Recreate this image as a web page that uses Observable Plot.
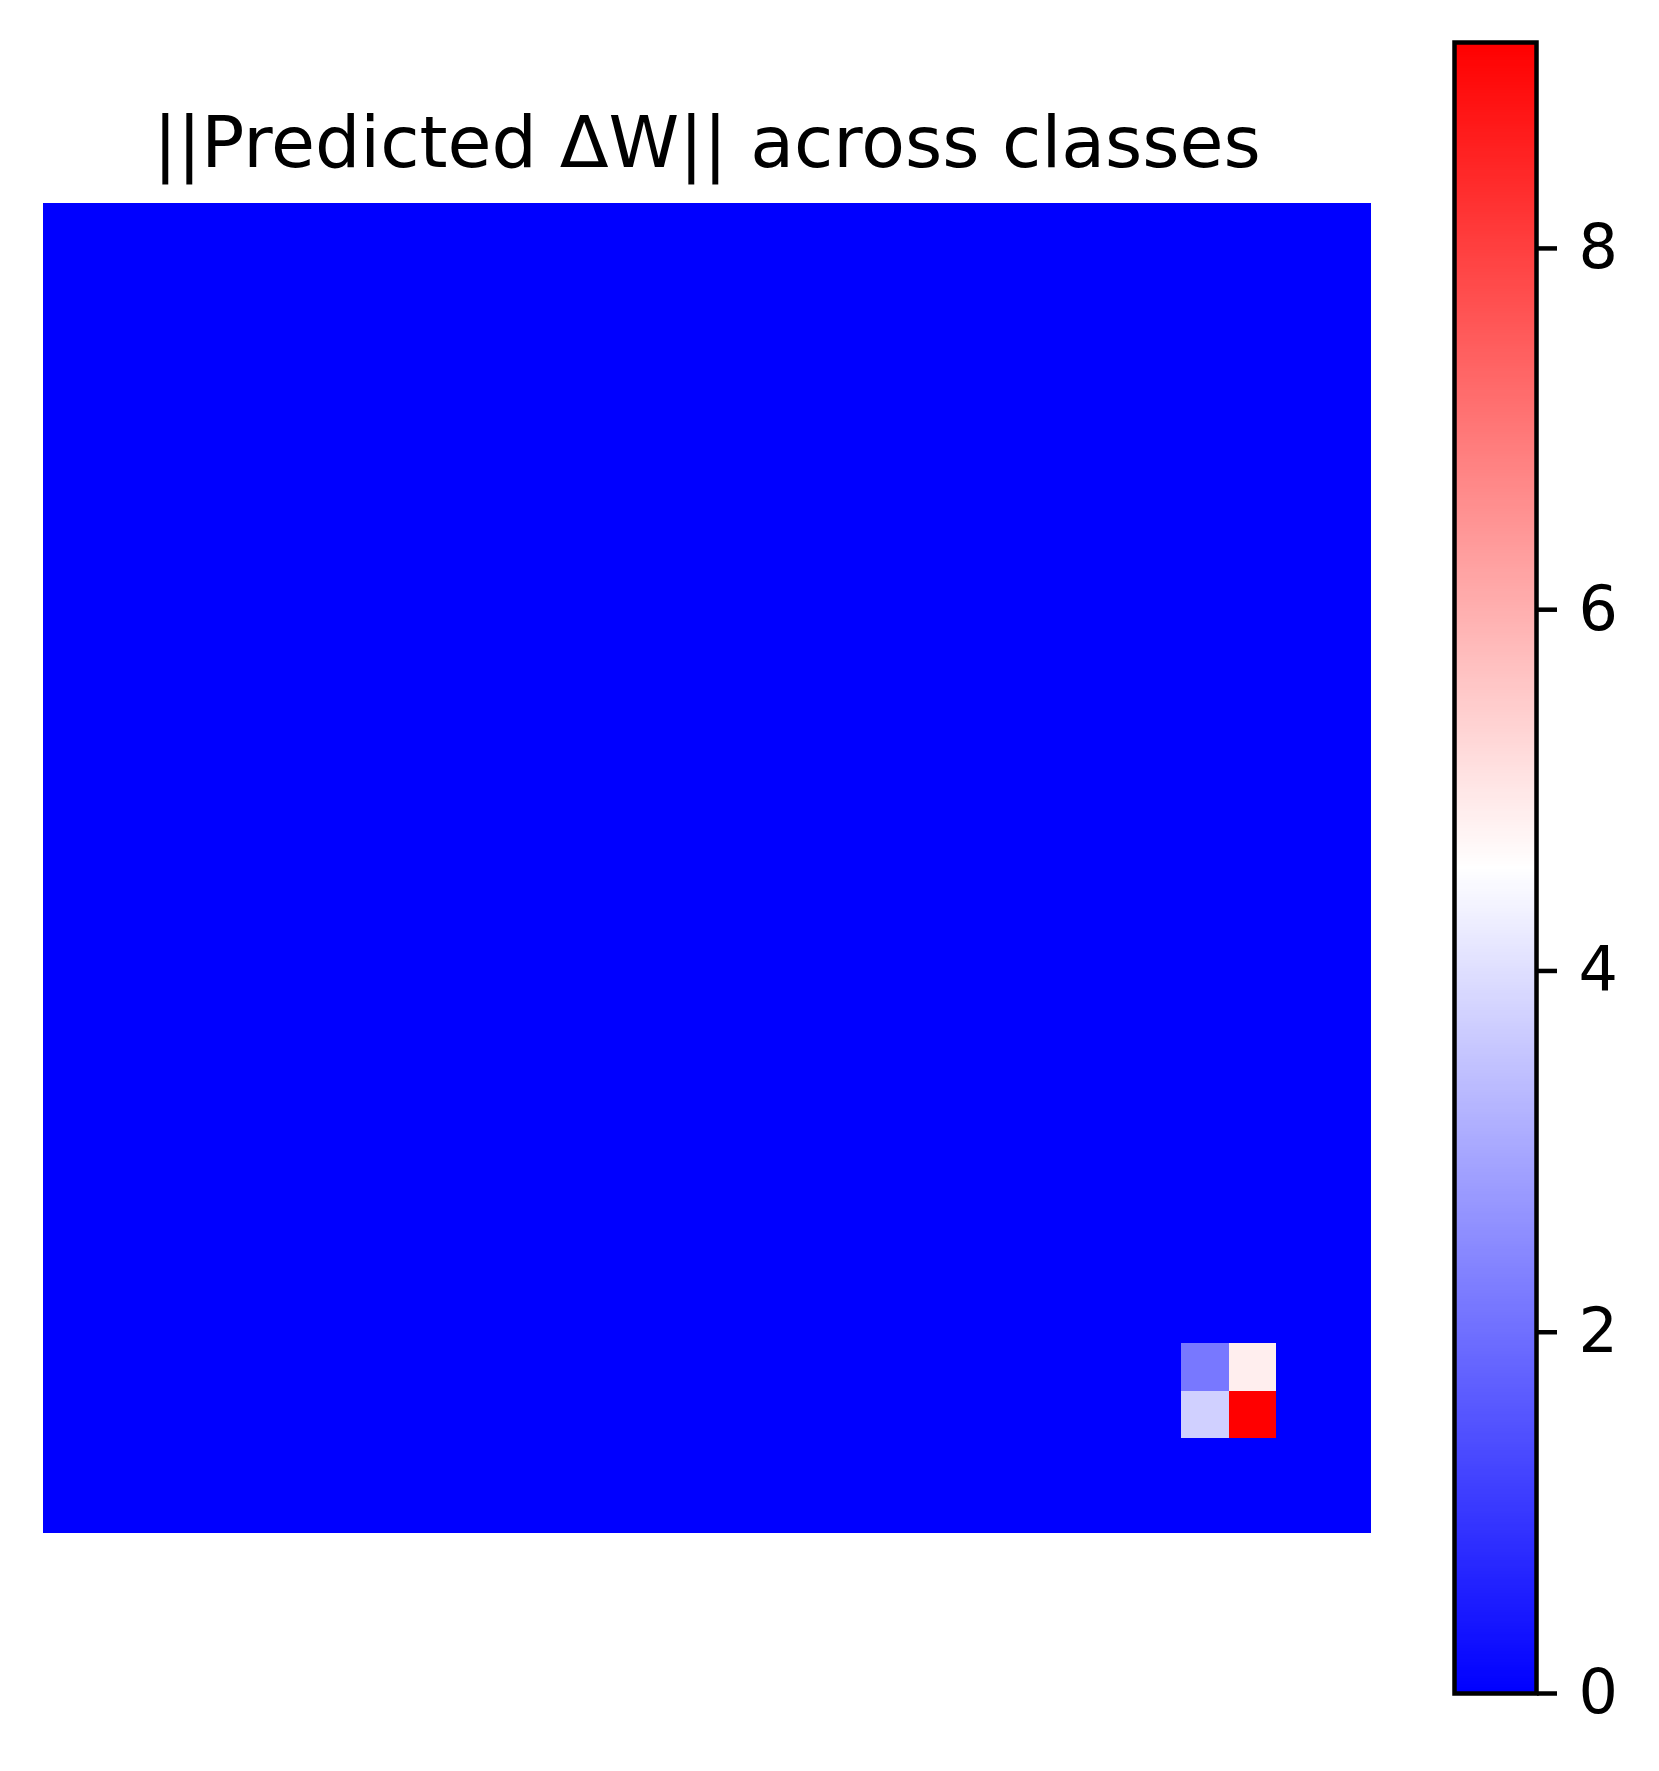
<!DOCTYPE html>
<html>
<head>
<meta charset="utf-8">
<script src="https://cdn.jsdelivr.net/npm/d3@7"></script>
<script src="https://cdn.jsdelivr.net/npm/@observablehq/plot@0.6"></script>
<style>
  html, body { margin: 0; padding: 0; background: #fff; }
  #root { position: relative; width: 1659px; height: 1771px; overflow: hidden; font-family: "DejaVu Sans", sans-serif; }
  #root > .layer { position: absolute; left: 0; top: 0; }
  #title { position: absolute; left: 43px; width: 1328px; top: 107px; text-align: center;
           font-family: "DejaVu Sans", sans-serif; font-size: 71.5px; line-height: 1; color: #000; white-space: nowrap; }
</style>
</head>
<body>
<div id="root">
  <div id="title">||Predicted ΔW|| across classes</div>
</div>
<script>
// ---- Data ----
const classes = [0,1,2,3,4,5,6,7,8,9,10,11,12,13,14,15,16,17,18,19,20,21,22,23,24,25,26,27];
// non-zero cells of the matrix (all other cells are 0)
const hotRows = [24, 24, 25, 25];
const hotCols = [24, 25, 24, 25];
const hotValues = [2.15, 4.88, 3.73, 9.14];
const colorMax = 9.14;
const colorbarTicks = [0, 2, 4, 6, 8];

// ---- Build table ----
const cells = [];
for (const r of classes) {
  for (const c of classes) {
    let v = 0;
    for (let i = 0; i < hotRows.length; i++) {
      if (hotRows[i] === r && hotCols[i] === c) v = hotValues[i];
    }
    cells.push({row: r, col: c, value: v});
  }
}

const colorScale = {
  type: "linear",
  domain: [0, colorMax / 2, colorMax],
  range: ["#0000ff", "#ffffff", "#ff0000"],
  interpolate: "rgb"
};

const W = 1659, H = 1771;
const root = document.getElementById("root");

// ---- Heatmap ----
const heat = Plot.plot({
  width: W,
  height: H,
  marginLeft: 43,
  marginRight: 288,
  marginTop: 203,
  marginBottom: 238,
  x: {type: "band", domain: classes, padding: 0, round: false, axis: null},
  y: {type: "band", domain: classes, padding: 0, round: false, axis: null},
  color: colorScale,
  style: {background: "transparent", fontFamily: "DejaVu Sans"},
  marks: [
    Plot.cell(cells, {x: "col", y: "row", fill: "value", inset: 0, shapeRendering: "crispEdges"})
  ]
});
heat.classList.add("layer");
root.appendChild(heat);

// ---- Colorbar ----
const cbar = Plot.plot({
  width: W,
  height: H,
  marginLeft: 1454,
  marginRight: 123,
  marginTop: 42,
  marginBottom: 78,
  x: {domain: [0, 1], axis: null},
  y: {domain: [0, colorMax]},
  color: colorScale,
  style: {background: "transparent", fontFamily: "DejaVu Sans", color: "#000"},
  marks: [
    Plot.raster({x1: 0, x2: 1, y1: 0, y2: colorMax, width: 1, height: 600,
                 fill: (x, y) => y}),
    Plot.axisY({anchor: "right", ticks: colorbarTicks, tickFormat: d => String(d),
                tickSize: 20, tickPadding: 22, strokeWidth: 4.5, fontSize: 62,
                label: null, stroke: "#000", fill: "#000"}),
    Plot.frame({stroke: "#000", strokeWidth: 4.5})
  ]
});
cbar.classList.add("layer");
root.appendChild(cbar);
</script>
</body>
</html>
